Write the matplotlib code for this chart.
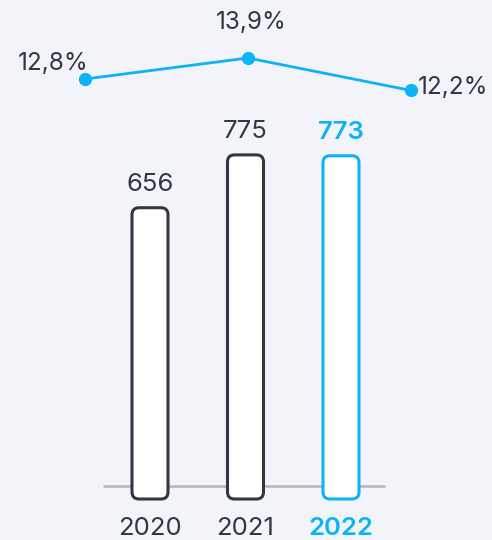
import matplotlib
matplotlib.use("Agg")
import matplotlib.pyplot as plt
from matplotlib.patches import FancyBboxPatch

years = ["2020", "2021", "2022"]
revenue = [656, 775, 773]
margin = [12.8, 13.9, 12.2]
margin_labels = ["12,8%", "13,9%", "12,2%"]

BG = "#f2f4f9"
DARK = "#333840"
BLUE = "#0db4f5"
GRAY = "#b9bbc0"

plt.rcParams['font.family'] = ['Inter', 'DejaVu Sans']

W, H = 492, 540
fig = plt.figure(figsize=(W / 100, H / 100), dpi=100, facecolor=BG)

# Bars axes
ax = fig.add_axes([0, 0, 1, 1])
ax.set_facecolor(BG)
xpx0, xstep = 150, 95.5
ypx0, ky = 499, 0.444
ax.set_xlim(-xpx0 / xstep, (W - xpx0) / xstep)
ax.set_ylim(-(H - ypx0) / ky, ypx0 / ky)
ax.axis("off")

colors = [DARK, DARK, BLUE]
weights = ["normal", "normal", 600]
bw = 36 / xstep
bars = ax.bar(range(3), revenue, width=bw, color="none", edgecolor="none")
xupp = 1 / xstep
yupp = 1 / ky
# baseline
ax.plot([(103 - xpx0) / xstep, (385 - xpx0) / xstep], [(ypx0 - 486) / ky] * 2,
        color=GRAY, lw=2, zorder=1, solid_capstyle="butt")
for i, b in enumerate(bars):
    p = FancyBboxPatch((b.get_x(), b.get_y()), b.get_width(), b.get_height(),
                       boxstyle=f"round,pad=0,rounding_size={7 * xupp}",
                       mutation_aspect=yupp / xupp,
                       facecolor="white", edgecolor=colors[i], lw=2.2, zorder=3)
    ax.add_patch(p)
    ax.annotate(str(revenue[i]), (i, revenue[i]), xytext=(0, 17), textcoords="offset pixels",
                ha="center", va="baseline", fontsize=18.5, color=colors[i],
                fontweight=weights[i])
    ax.text(i, -(535 - ypx0) / ky, years[i], ha="center", va="baseline", fontsize=18.5,
            color=colors[i], fontweight=weights[i])

# Line axes
ax2 = fig.add_axes([0, 0, 1, 1])
ax2.patch.set_alpha(0)
lx0, lstep = 85, 163
ly_top = 13.9 + 58 / 19.1
ly_bot = 13.9 - (H - 58) / 19.1
ax2.set_xlim(-lx0 / lstep, (W - lx0) / lstep)
ax2.set_ylim(ly_bot, ly_top)
ax2.axis("off")
ax2.plot(range(3), margin, color=BLUE, lw=2, marker="o", markersize=8.5, zorder=4)
ax2.annotate(margin_labels[0], (0, margin[0]), xytext=(-32, 9), textcoords="offset pixels",
             ha="center", va="baseline", fontsize=17.5, color=DARK)
ax2.annotate(margin_labels[1], (1, margin[1]), xytext=(3, 29), textcoords="offset pixels",
             ha="center", va="baseline", fontsize=17.5, color=DARK)
ax2.annotate(margin_labels[2], (2, margin[2]), xytext=(7, -4), textcoords="offset pixels",
             ha="left", va="baseline", fontsize=17.5, color=DARK)

fig.savefig("out.png", dpi=100, facecolor=BG)
